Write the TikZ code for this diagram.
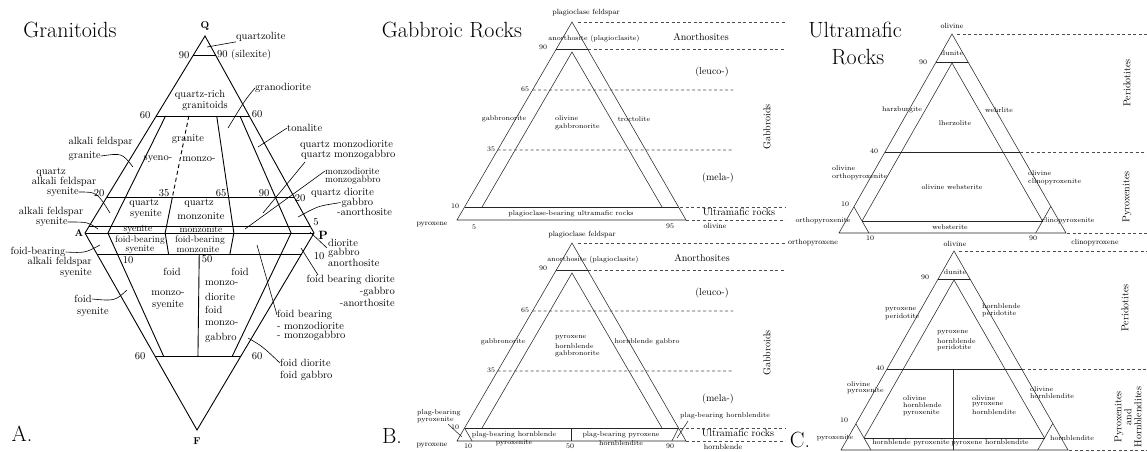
\documentclass[tikz,border=0pt]{standalone}
\usepackage{tikz}
\usetikzlibrary{calc}

\tikzset{
  ln/.style={line width=0.9pt},
  fn/.style={line width=0.55pt, black!85},
  dl/.style={line width=0.55pt, black!70, dash pattern=on 3pt off 2.5pt},
  ldr/.style={line width=0.6pt},
  lab/.style={font=\fontsize{10.5}{10.5}\selectfont},
  lbs/.style={font=\fontsize{9.5}{9.5}\selectfont},
  vb/.style={font=\fontsize{10}{10}\selectfont\bfseries},
  sml/.style={font=\fontsize{7}{7.5}\selectfont},
  vtx/.style={font=\fontsize{7.5}{8}\selectfont},
  side/.style={font=\fontsize{10}{10}\selectfont},
  ttl/.style={font=\fontsize{22}{24}\selectfont},
}

\begin{document}
\begin{tikzpicture}[x=1pt, y=-1pt, every node/.style={inner sep=0pt}]
\useasboundingbox (0,0) rectangle (1147,451);

% ---------------- A. Granitoids
\coordinate (Q) at (205,36);
\coordinate (A) at (85,233);
\coordinate (P) at (314,233);
\coordinate (F) at (197,430);
\coordinate (a90) at ($(Q)!0.0964!(A)$);
\coordinate (p90) at ($(Q)!0.0964!(P)$);
\coordinate (a60) at ($(Q)!0.4061!(A)$);
\coordinate (p60) at ($(Q)!0.4061!(P)$);
\coordinate (a20) at ($(Q)!0.8173!(A)$);
\coordinate (p20) at ($(Q)!0.8173!(P)$);
\coordinate (a5) at ($(Q)!0.9645!(A)$);
\coordinate (p5) at ($(Q)!0.9645!(P)$);
\coordinate (a10) at ($(A)!0.1066!(F)$);
\coordinate (p10) at ($(P)!0.1066!(F)$);
\coordinate (af60) at ($(A)!0.6244!(F)$);
\coordinate (pf60) at ($(P)!0.6244!(F)$);

\draw[ln] (Q) -- (A) -- (F) -- (P) -- cycle;
\draw[ln] (a90) -- (p90);
\draw[ln] (a60) -- (p60);
\draw[ln] (a20) -- (p20);
\draw[ln] (a5) -- (p5);
\draw[ln] (A) -- (P);
\draw[ln] (a10) -- (p10);
\draw[ln] (af60) -- (pf60);
\draw[ln] ($(a60)!0.1!(p60)$) -- ($(A)!0.1!(P)$) -- ($(af60)!0.1!(pf60)$);
\draw[ln] ($(a60)!0.9!(p60)$) -- ($(A)!0.9!(P)$) -- ($(af60)!0.9!(pf60)$);
\draw[ln] ($(a60)!0.65!(p60)$) -- ($(A)!0.65!(P)$) -- ($(a10)!0.65!(p10)$);
\draw[ln, dash pattern=on 4pt off 3pt] ($(a60)!0.35!(p60)$) -- ($(a20)!0.35!(p20)$);
\draw[ln] ($(a20)!0.35!(p20)$) -- ($(A)!0.35!(P)$) -- ($(a10)!0.35!(p10)$);
\draw[ln] ($(a10)!0.5!(p10)$) -- ($(af60)!0.5!(pf60)$);

\node[ttl] (tA) at (70,30) {Granitoids};
\node[ttl] (nA) at (22,434) {A.};
\node[vb] (lQ) at (205,26) {Q};
\node[vb] (lA) at (79,233) {A};
\node[vb, scale=1.2] (lP) at (323,235) {P};
\node[vb] (lF) at (197,441) {F};

\node[lab] at (184,55) {90};
\node[lab, anchor=west] at (217,55) {90 (silexite)};
\node[lab, anchor=west] (nqzl) at (236,37) {quartzolite};
\draw[ldr] (nqzl.south west) -- (207,47);
\node[lab] at (200,95) {quartz-rich};
\node[lab] at (205,106) {granitoids};
\node[lab, anchor=west] (ngd) at (255,88) {granodiorite};
\draw[ldr] (ngd.west) .. controls (245,100) .. (228,128);
\node[lab] at (145,115) {60};
\node[lab] at (257,114) {60};
\node[lab, anchor=west] (nton) at (287,128) {tonalite};
\draw[ldr] (nton.west) .. controls (272,137) .. (258,147);
\node[lab] at (188,139) {granite};
\node[lab] at (158,159) {syeno-};
\node[lab] at (199,159) {monzo-};
\node[lab, anchor=east] at (133,142) {alkali feldspar};
\node[lab, anchor=east] (nafg) at (101,156) {granite};
\draw[ldr] (nafg.east) .. controls (122,153) .. (133,167);
\node[lab, anchor=west] at (300,145) {quartz monzodiorite};
\node[lab, anchor=west] (nqmg) at (301,155) {quartz monzogabbro};
\draw[ldr] (305,162) -- (263,213);
\node[lbs, anchor=west] (nmzd) at (325,171) {monzodiorite};
\node[lbs, anchor=west] at (325,180.5) {monzogabbro};
\draw[ldr] (nmzd.west) -- (245,229);
\node[lab] at (51,172) {quartz};
\node[lab] at (64,182) {alkali feldspar};
\node[lab] (nqas) at (63,192) {syenite};
\draw[ldr] (nqas.east) .. controls (97,192) .. (110,213);
\node[lab] at (99,193) {20};
\node[lab] at (164,193) {35};
\node[lab] at (221,193) {65};
\node[lab] at (264,193) {90};
\node[lab] at (300,198) {20};
\node[lab, anchor=west] at (311,193) {quartz diorite};
\node[lab, anchor=west] (nqdg) at (338,203) {-gabbro};
\node[lab, anchor=west] at (337,212) {-anorthosite};
\draw[ldr] (nqdg.west) .. controls (318,206) .. (298,217);
\node[lab] at (144,203) {quartz};
\node[lab] at (146,214) {syenite};
\node[lab] at (199,203) {quartz};
\node[lab] at (201,216) {monzonite};
\node[lab] at (51,212) {alkali feldspar};
\node[lab] (nafs) at (52,222) {syenite};
\draw[ldr] (nafs.east) .. controls (88,222) .. (98,229);
\node[lab] at (316,222) {5};
\node[lbs] at (138,229) {syenite};
\node[lbs] at (201,229) {monzonite};
\node[lab, anchor=west] (ndio) at (328,243) {diorite};
\node[lab, anchor=west] at (328,253) {gabbro};
\node[lab, anchor=west] at (328,263) {anorthosite};
\draw[ldr] (327,248) -- (310,232);
\node[lab] (nfbafs) at (38,252) {foid-bearing};
\node[lab, anchor=east] at (92,262) {alkali feldspar};
\node[lab, anchor=east] at (92,273) {syenite};
\draw[ldr] (nfbafs.east) .. controls (85,253) .. (100,245);
\node[lbs] at (140,240.5) {foid-bearing};
\node[lbs] at (140,249.5) {syenite};
\node[lbs] at (200,240.5) {foid-bearing};
\node[lbs] at (198,249.5) {monzonite};
\node[lab] at (128,260) {10};
\node[lab] at (207,259) {50};
\node[lab] at (319,256) {10};
\node[lab] at (172,272) {foid};
\node[lab] at (168,293) {monzo-};
\node[lab] at (168,305) {syenite};
\node[lab] at (240,272) {foid};
\node[lab, anchor=west] at (205,283) {monzo-};
\node[lab, anchor=west] at (205,297) {diorite};
\node[lab, anchor=west] at (205,310) {foid};
\node[lab, anchor=west] at (205,323) {monzo-};
\node[lab, anchor=west] at (205,338) {gabbro};
\node[lab] (nfoid) at (83,299) {foid};
\node[lab] at (93,312) {syenite};
\draw[ldr] (nfoid.east) .. controls (115,301) .. (127,290);
\node[lab, anchor=east] at (395,280) {foid bearing diorite};
\node[lab, anchor=east] at (395,292) {-gabbro};
\node[lab, anchor=east] at (395,303) {-anorthosite};
\draw[ldr] (318,275) -- (301,248);
\node[lab, anchor=west] (nfbm) at (277,315) {foid bearing};
\node[lab, anchor=west] at (277,326) {- monzodiorite};
\node[lab, anchor=west] at (277,336) {- monzogabbro};
\draw[ldr] (nfbm.west) -- (257,245);
\node[lab, anchor=west] (nfd) at (280,363) {foid diorite};
\node[lab, anchor=west] at (280,376) {foid gabbro};
\draw[ldr] (nfd.west) .. controls (262,346) .. (248,338);
\node[lab] at (140,356) {60};
\node[lab] at (257,356) {60};

% ---------------- B. Gabbroic rocks
\node[ttl] at (452,30) {Gabbroic Rocks};
\node[ttl] at (392,436) {B.};

% upper triangle
\coordinate (T1) at (572,22);
\coordinate (L1) at (457,220);
\coordinate (R1) at (686,220);
\coordinate (I1) at (572,52);
\draw[fn] (T1) -- (L1) -- (R1) -- cycle;
\draw[fn] ($(T1)!0.1364!(L1)$) -- ($(T1)!0.1364!(R1)$);
\draw[fn] ($(T1)!0.9343!(L1)$) -- ($(T1)!0.9343!(R1)$);
\draw[fn] (482,207) -- (I1) -- (662,207);
\draw[dl] (578,22) -- (785,22);
\draw[dl] (588,49) -- (785,49);
\draw[dl] ($(T1)!0.3434!(L1)$) -- (733,90);
\draw[dl] ($(T1)!0.6465!(L1)$) -- (733,150);
\draw[dl] (680,207) -- (785,207);
\draw[dl] (686,220) -- (785,220);

\node[vtx] at (586,13) {plagioclase feldspar};
\node[sml] at (594,39) {anorthosite (plagioclasite)};
\node[sml] at (543,47) {90};
\node[side] at (701,37) {Anorthosites};
\node[side] at (712,72) {(leuco-)};
\node[sml] at (525,89) {65};
\node[sml] at (504,119) {gabbronorite};
\node[sml, anchor=west] at (555,118) {olivine};
\node[sml, anchor=west] at (555,127) {gabbronorite};
\node[sml] at (634,119) {troctolite};
\node[side, rotate=90] at (767,127) {Gabbroids};
\node[sml] at (491,149) {35};
\node[side] at (718,178) {(mela-)};
\node[sml] at (455,206) {10};
\node[sml] at (571,214) {plagioclase-bearing ultramafic rocks};
\node[side] at (739,212) {Ultramafic rocks};
\node[vtx] at (432,225) {pyroxene};
\node[sml] at (474,227) {5};
\node[sml] at (670,226) {95};
\node[vtx] at (715,226) {olivine};

% lower triangle
\coordinate (T2) at (572,243);
\coordinate (L2) at (457,441);
\coordinate (R2) at (686,441);
\coordinate (I2) at (572,273);
\draw[fn] (T2) -- (L2) -- (R2) -- cycle;
\draw[fn] ($(T2)!0.1364!(L2)$) -- ($(T2)!0.1364!(R2)$);
\draw[fn] ($(T2)!0.9343!(L2)$) -- ($(T2)!0.9343!(R2)$);
\draw[fn] (482,428) -- (I2) -- (662,428);
\draw[fn] (571,428) -- (571,441);
\draw[fn] ($(T2)!0.9343!(L2)$) -- (472.1,441);
\draw[fn] ($(T2)!0.9343!(R2)$) -- (671.9,441);
\draw[dl] (578,243) -- (785,243);
\draw[dl] (588,270) -- (785,270);
\draw[dl] ($(T2)!0.3434!(L2)$) -- (733,311);
\draw[dl] ($(T2)!0.6465!(L2)$) -- (733,371);
\draw[dl] (680,428) -- (785,428);
\draw[dl] (686,441) -- (785,441);

\node[vtx] at (582,235) {plagioclase feldspar};
\node[sml] at (593,260) {anorthosite (plagioclasite)};
\node[sml] at (543,268) {90};
\node[side] at (702,258) {Anorthosites};
\node[side] at (712,293) {(leuco-)};
\node[sml] at (525,310) {65};
\node[sml] at (503,342) {gabbronorite};
\node[sml, anchor=west] at (555,338) {pyroxene};
\node[sml, anchor=west] at (555,346) {hornblende};
\node[sml, anchor=west] at (555,354) {gabbronorite};
\node[sml] at (647,342) {hornblende gabbro};
\node[side, rotate=90] at (767,353) {Gabbroids};
\node[sml] at (491,370) {35};
\node[side] at (718,399) {(mela-)};
\node[sml, anchor=west] at (417,413) {plag-bearing};
\node[sml, anchor=west] (npbp) at (417,420) {pyroxenite};
\draw[fn] (448,424) -- (462,437);
\node[sml] at (455,427) {10};
\node[sml] at (514,435) {plag-bearing hornblende};
\node[sml] at (514,443) {pyroxenite};
\node[sml] at (621,435) {plag-bearing pyroxene};
\node[sml] at (621,443) {hornblendite};
\node[sml] at (725,416) {plag-bearing hornblendite};
\draw[fn] (688,421) -- (677,438);
\node[side] at (738,433) {Ultramafic rocks};
\node[vtx] at (432,446) {pyroxene};
\node[sml] at (468,446) {10};
\node[sml] at (570,446) {50};
\node[sml] at (670,446) {90};
\node[vtx] at (723,447) {hornblende};

% ---------------- C. Ultramafic rocks
\node[ttl] at (855,30) {Ultramafic};
\node[ttl] at (858,57) {Rocks};
\node[ttl] at (800,440) {C.};

% upper triangle
\coordinate (T3) at (952,34);
\coordinate (L3) at (839,233);
\coordinate (R3) at (1066,233);
\coordinate (I3) at (952,63);
\draw[fn] (T3) -- (L3) -- (R3) -- cycle;
\draw[fn] ($(T3)!0.1407!(L3)$) -- ($(T3)!0.1407!(R3)$);
\draw[fn] ($(T3)!0.593!(L3)$) -- ($(T3)!0.593!(R3)$);
\draw[fn] (862,221) -- (I3) -- (1042.5,221);
\draw[fn] (862,221) -- (1042.5,221);
\draw[fn] (853.9,206.8) -- (868.9,233);
\draw[fn] (1050.8,206.4) -- (1035.7,233);
\draw[dl] (957,34) -- (1147,34);
\draw[dl] (1020,152) -- (1147,152);
\draw[dl] (1067,233) -- (1147,233);

\node[vtx] at (952,26) {olivine};
\node[sml] at (952,53) {dunite};
\node[sml] at (923,62) {90};
\node[sml] at (902,110) {harzburgite};
\node[sml] at (955,123) {lherzolite};
\node[sml] at (999,110) {wehrlite};
\node[side, rotate=90] at (1127,83) {Peridotites};
\node[sml] at (874,151) {40};
\node[sml, anchor=west] at (832,168) {olivine};
\node[sml, anchor=west] at (832,177) {orthopyroxenite};
\node[sml] at (952,187) {olivine websterite};
\node[sml, anchor=west] at (1028,173) {olivine};
\node[sml, anchor=west] at (1028,182) {clinopyroxenite};
\node[side, rotate=90] at (1127,197) {Pyroxenites};
\node[sml] at (845,204) {10};
\node[sml] at (823,221) {orthopyroxenite};
\node[sml] at (950,227) {websterite};
\node[sml] at (1068,221) {clinopyroxenite};
\node[vtx] at (813,243) {orthopyroxene};
\node[sml] at (870,238) {10};
\node[sml] at (1033,238) {90};
\node[vtx] at (1095,243) {clinopyroxene};

% lower triangle
\coordinate (T4) at (954,251);
\coordinate (L4) at (841,450);
\coordinate (R4) at (1068,450);
\coordinate (I4) at (954,280);
\draw[fn] (T4) -- (L4) -- (R4) -- cycle;
\draw[fn] ($(T4)!0.1407!(L4)$) -- ($(T4)!0.1407!(R4)$);
\draw[fn] ($(T4)!0.593!(L4)$) -- ($(T4)!0.593!(R4)$);
\draw[fn] (864,438) -- (I4) -- (1044.5,438);
\draw[fn] (864,438) -- (1044.5,438);
\draw[fn] (953,369) -- (953,450);
\draw[fn] (855.9,423.8) -- (870.9,450);
\draw[fn] (1052.8,423.4) -- (1037.7,450);
\draw[dl] (959,251) -- (1147,251);
\draw[dl] (1022,369) -- (1147,369);
\draw[dl] (1069,450) -- (1147,450);

\node[vtx] at (955,244) {olivine};
\node[sml] at (955,272) {dunite};
\node[sml] at (925,277) {90};
\node[sml, anchor=west] at (885,310) {pyroxene};
\node[sml, anchor=west] at (885,317) {peridotite};
\node[sml, anchor=west] at (982,306) {hornblende};
\node[sml, anchor=west] at (982,314) {peridotite};
\node[sml, anchor=west] at (937,333) {pyroxene};
\node[sml, anchor=west] at (937,341) {hornblende};
\node[sml, anchor=west] at (937,348) {peridotite};
\node[side, rotate=90] at (1125,308) {Peridotites};
\node[sml] at (880,368) {40};
\node[sml, anchor=west] at (847,384) {olivine};
\node[sml, anchor=west] at (847,391) {pyroxenite};
\node[sml, anchor=west] at (903,398) {olivine};
\node[sml, anchor=west] at (903,405) {hornblende};
\node[sml, anchor=west] at (903,413) {pyroxenite};
\node[sml, anchor=west] at (972,398) {olivine};
\node[sml, anchor=west] at (972,405) {pyroxene};
\node[sml, anchor=west] at (972,412) {hornblendite};
\node[sml, anchor=west] at (1030,389) {olivine};
\node[sml, anchor=west] at (1030,396) {hornblendite};
\node[side, rotate=90, align=center] at (1128,417) {Pyroxenites\\and\\Hornblendites};
\node[sml] at (844,420) {10};
\node[sml] at (835,438) {pyroxenite};
\node[sml] at (911,443) {hornblende pyroxenite};
\node[sml] at (990,443) {pyroxene hornblendite};
\node[sml] at (1072,438) {hornblendite};
\end{tikzpicture}
\end{document}
